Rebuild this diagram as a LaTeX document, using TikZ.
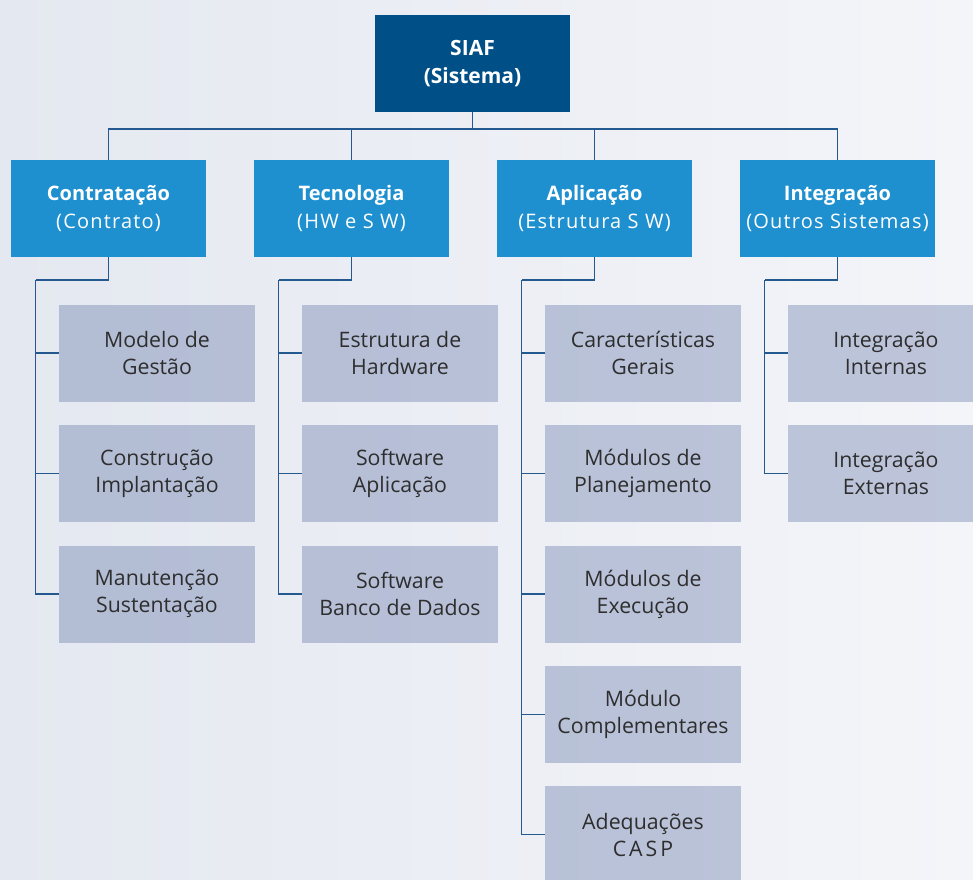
\documentclass[tikz,border=0pt]{standalone}
\usepackage{fontspec}
\setmainfont{Open Sans}
\usetikzlibrary{positioning}
\definecolor{rootblue}{HTML}{004F87}
\definecolor{headblue}{HTML}{1E8FCF}
\definecolor{leafshade}{RGB}{50,75,140}
\definecolor{linkblue}{HTML}{23598E}
\definecolor{bgleft}{HTML}{E4E8F0}
\definecolor{bgright}{HTML}{F4F5F9}
\tikzset{
  rootbox/.style={fill=rootblue, text=white, minimum width=195pt, minimum height=97pt,
    align=center, font=\fontsize{21}{27.5}\selectfont\bfseries, inner sep=0pt},
  headbox/.style={fill=headblue, text=white, minimum width=195pt, minimum height=97pt,
    align=center, font=\fontsize{20}{28}\selectfont, inner sep=0pt},
  leafbox/.style={fill=leafshade, fill opacity=0.28, text opacity=1, text=black!82,
    minimum width=196pt, minimum height=97pt, align=center,
    font=\fontsize{21.3}{27}\selectfont, inner sep=0pt},
  link/.style={draw=linkblue, line width=1.3pt},
}
\newcommand{\subt}[1]{{\addfontfeature{LetterSpace=6}#1}}
\newcommand{\wide}[1]{{\addfontfeature{LetterSpace=14}#1}}
\begin{document}
\begin{tikzpicture}[x=1pt, y=-1pt]
  \useasboundingbox (0,0) rectangle (973,879);
  \clip (0,0) rectangle (973,879);
  \shade[left color=bgleft, right color=bgright] (0,0) rectangle (973,879);

  % top of the hierarchy
  \node[rootbox] (root) at (472.5,63.5) {SIAF\\(Sistema)};

  % main branches
  \node[headbox] (h1) at (108.5,208.5) {\textbf{Contratação}\\\subt{(Contrato)}};
  \node[headbox] (h2) at (351.5,208.5) {\textbf{Tecnologia}\\\subt{(HW e S W)}};
  \node[headbox] (h3) at (594.5,208.5) {\textbf{Aplicação}\\\subt{(Estrutura S W)}};
  \node[headbox] (h4) at (837.5,208.5) {\textbf{Integração}\\\subt{(Outros Sistemas)}};

  % leaves
  \node[leafbox] (a1) at (157,353)   {Modelo de\\Gestão};
  \node[leafbox] (a2) at (157,473.5) {Construção\\Implantação};
  \node[leafbox] (a3) at (157,594)   {Manutenção\\Sustentação};

  \node[leafbox] (b1) at (400,353)   {Estrutura de\\Hardware};
  \node[leafbox] (b2) at (400,473.5) {Software\\Aplicação};
  \node[leafbox] (b3) at (400,594)   {Software\\Banco de Dados};

  \node[leafbox] (c1) at (643,353)   {Características\\Gerais};
  \node[leafbox] (c2) at (643,473.5) {Módulos de\\Planejamento};
  \node[leafbox] (c3) at (643,594)   {Módulos de\\Execução};
  \node[leafbox] (c4) at (643,714.5) {Módulo\\Complementares};
  \node[leafbox] (c5) at (643,834.5) {Adequações\\\wide{CASP}};

  \node[leafbox] (d1) at (886,353)   {Integração\\Internas};
  \node[leafbox] (d2) at (886,473.5) {Integração\\Externas};

  % bus under the root
  \coordinate (bus) at (472.5,129);
  \draw[link] (root.south) -- (bus);
  \foreach \h in {h1,h2,h3,h4} \draw[link] (\h.north) |- (bus);

  % spines of each branch
  \coordinate (sa) at (35.5,280);
  \coordinate (sb) at (278.5,280);
  \coordinate (sc) at (521.5,280);
  \coordinate (sd) at (764.5,280);
  \draw[link] (h1.south) |- (sa);
  \draw[link] (h2.south) |- (sb);
  \draw[link] (h3.south) |- (sc);
  \draw[link] (h4.south) |- (sd);

  \foreach \l in {a1,a2,a3} \draw[link] (sa) |- (\l.west);
  \foreach \l in {b1,b2,b3} \draw[link] (sb) |- (\l.west);
  \foreach \l in {c1,c2,c3,c4,c5} \draw[link] (sc) |- (\l.west);
  \foreach \l in {d1,d2} \draw[link] (sd) |- (\l.west);
\end{tikzpicture}
\end{document}
